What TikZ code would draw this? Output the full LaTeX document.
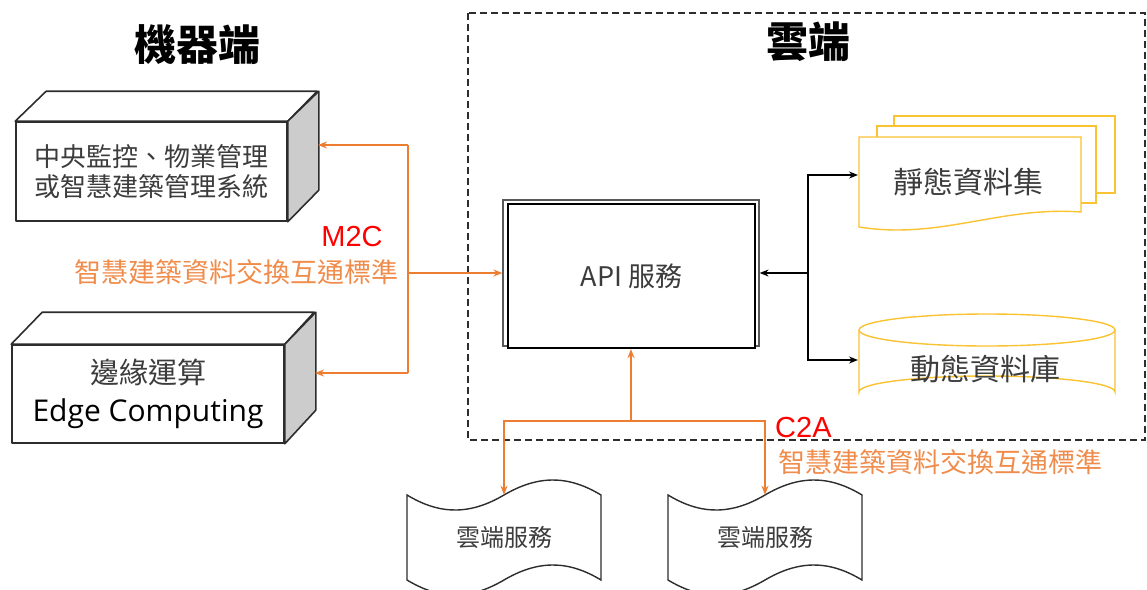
\documentclass[tikz,border=0pt]{standalone}
\usepackage{fontspec}
\setmainfont{Noto Sans CJK TC}
\newfontfamily\arialf{Liberation Sans}
\newfontfamily\segoe{Open Sans}
\usetikzlibrary{arrows.meta,calc}
\definecolor{org}{RGB}{237,125,49}
\definecolor{orgtxt}{RGB}{240,140,75}
\definecolor{ylw}{RGB}{250,195,50}
\definecolor{dk}{RGB}{45,45,45}
\definecolor{txtgray}{RGB}{60,60,60}
\begin{document}
\begin{tikzpicture}[x=1pt,y=-1pt,
  cube/.style={draw=dk,line width=1.6pt,line join=round},
  oarrow/.style={draw=org,line width=1.4pt,-{Stealth[length=9pt,width=7pt]}},
  oline/.style={draw=org,line width=1.4pt},
  barrow/.style={draw=black,line width=1.3pt,-{Stealth[length=9pt,width=7pt]}},
  yshape/.style={draw=ylw,line width=1.4pt,fill=white},
  tape/.style={draw=dk,line width=1.4pt,fill=white},
  title/.style={font=\bfseries\fontsize{42}{46}\selectfont},
  otxt/.style={text=orgtxt,font=\fontsize{27}{30}\selectfont,inner sep=0},
  rtxt/.style={text=red,font=\arialf\fontsize{29}{32}\selectfont,inner sep=0}]
\useasboundingbox (0,0) rectangle (1147,589);

% titles
\node[title] (t1) at (197,45) {機器端};
\node[title] (t2) at (808,42) {雲端};

% cloud zone
\draw[dk,line width=1.5pt,dash pattern=on 7pt off 4pt] (468,13) rectangle (1145,440);

% cuboid 1
\node[cube,fill=white,minimum width=271pt,minimum height=99pt,inner sep=0,align=center,
  text=txtgray,font=\fontsize{26}{30}\selectfont] (b1) at (151.5,171.5)
  {中央監控、物業管理\\或智慧建築管理系統};
\draw[cube,fill=white] (b1.north west) -- ++(31,-30) -- ++(271,0) -- (b1.north east) -- cycle;
\draw[cube,fill=gray!40] (b1.north east) -- ++(31,-30) -- ++(0,99) -- (b1.south east) -- cycle;
\coordinate (b1s) at (318,145);

% cuboid 2
\node[cube,fill=white,minimum width=272pt,minimum height=98pt,inner sep=0,align=center,
  font=\fontsize{29}{38}\selectfont] (b2) at (148,394)
  {\textcolor{txtgray}{邊緣運算}\\{\segoe\fontsize{30}{38}\selectfont Edge Computing}};
\draw[cube,fill=white] (b2.north west) -- ++(31,-32) -- ++(272,0) -- (b2.north east) -- cycle;
\draw[cube,fill=gray!40] (b2.north east) -- ++(31,-32) -- ++(0,98) -- (b2.south east) -- cycle;
\coordinate (b2s) at (315,373);

% API box
\node[draw=gray!70!black,line width=1.2pt,minimum width=256pt,minimum height=146pt,inner sep=0] (apiback) at (631,273) {};
\node[draw=black,line width=2.2pt,fill=white,minimum width=247pt,minimum height=144pt,inner sep=0,
  text=txtgray,font=\fontsize{27}{30}\selectfont] (api) at (631.5,276) {API 服務};

% static dataset (multi document)
\draw[yshape] (894,116) rectangle (1115,193);
\draw[yshape] (877,126) rectangle (1096,203);
\draw[yshape] (859,137) -- (1081,137) -- (1081,212)
  .. controls (1000,206) and (940,240) .. (859,227) -- cycle;
\node[text=txtgray,font=\fontsize{30}{34}\selectfont,inner sep=0] (sds) at (968,182) {靜態資料集};
\coordinate (sdsL) at (858,175);

% dynamic database (cylinder)
\draw[yshape] (859,330) -- (859,392) arc[start angle=180,end angle=360,x radius=128,y radius=16] -- (1115,330);
\draw[yshape] (987,330) ellipse[x radius=128,y radius=16];
\node[text=txtgray,font=\fontsize{30}{34}\selectfont,inner sep=0] (db) at (985,369) {動態資料庫};
\coordinate (dbL) at (858,360);

% cloud services (punched tape)
\draw[tape] (407,495) .. controls (440,515) and (470,515) .. (504,495)
  .. controls (538,475) and (568,475) .. (601,495) -- (601,580)
  .. controls (568,560) and (538,560) .. (504,580)
  .. controls (470,600) and (440,600) .. (407,580) -- cycle;
\node[minimum width=194pt,minimum height=85pt,inner sep=0,text=txtgray,font=\fontsize{24}{28}\selectfont] (cs1) at (504,537.5) {雲端服務};
\draw[tape] (668,495) .. controls (701,515) and (731,515) .. (765,495)
  .. controls (799,475) and (829,475) .. (862,495) -- (862,580)
  .. controls (829,560) and (799,560) .. (765,580)
  .. controls (731,600) and (701,600) .. (668,580) -- cycle;
\node[minimum width=194pt,minimum height=85pt,inner sep=0,text=txtgray,font=\fontsize{24}{28}\selectfont] (cs2) at (765,537.5) {雲端服務};

% M2C connectors
\coordinate (j1) at (408,273);
\draw[oline] (b1s -| j1) -- (b2s -| j1);
\draw[oarrow] (j1) -- (apiback.west);
\draw[oarrow] (b1s -| j1) -- (b1s);
\draw[oarrow] (b2s -| j1) -- (b2s);
\node[rtxt] (m2c) at (352,237) {M2C};
\node[otxt,anchor=east] (std1) at (399,272) {智慧建築資料交換互通標準};

% C2A connectors
\coordinate (j2) at (631,421);
\draw[oarrow,line width=1.7pt] (j2) -- (j2 |- api.south);
\draw[oarrow] (j2) -| (cs1.north);
\draw[oarrow] (j2) -| (cs2.north);
\node[rtxt,anchor=west] (c2a) at (775,428) {C2A};
\node[otxt,anchor=west] (std2) at (778,462) {智慧建築資料交換互通標準};

% black connectors
\coordinate (j3) at (808,273);
\draw[barrow] (j3) -- (apiback.east);
\draw[barrow] (j3) |- (sdsL);
\draw[barrow] (j3) |- (dbL);
\end{tikzpicture}
\end{document}
